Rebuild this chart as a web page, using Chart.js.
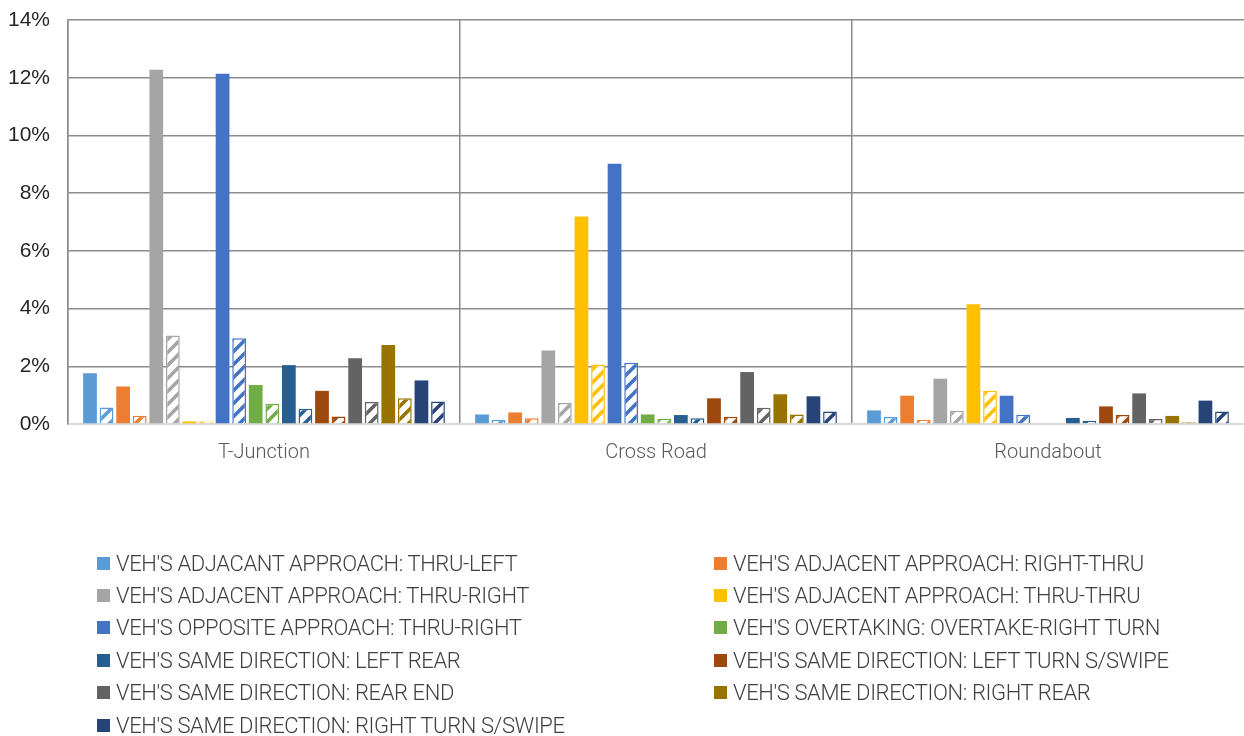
<!DOCTYPE html>
<html>
<head>
<meta charset="utf-8">
<title>Crash types by intersection</title>
<script src="https://cdn.jsdelivr.net/npm/chart.js@4.4.1/dist/chart.umd.min.js"></script>
<style>
  html, body { margin: 0; padding: 0; background: #ffffff; }
  #wrap { position: relative; width: 1244px; height: 736px; overflow: hidden; }
  #chart { position: absolute; left: 0; top: 0; }
  #legend {
    position: absolute; left: 97px; top: 547px;
    display: grid; grid-template-columns: 617px 530px; grid-auto-rows: 32.4px;
    font-family: Roboto, "Liberation Sans", sans-serif; font-weight: 300;
    font-size: 22px; letter-spacing: -0.4px; color: #404040;
  }
  .item { display: flex; align-items: center; white-space: nowrap; }
  .box { width: 13px; height: 13px; margin-right: 6px; flex: none; }
</style>
</head>
<body>
<div id="wrap">
  <canvas id="chart" width="1244" height="736"></canvas>
  <div id="legend"></div>
</div>
<script>
// Intersection types on the x axis
const categories = ['T-Junction', 'Cross Road', 'Roundabout'];

// Crash movement types (one solid + one hatched bar each)
const seriesNames = [
  "VEH'S ADJACANT APPROACH: THRU-LEFT",
  "VEH'S ADJACENT APPROACH: RIGHT-THRU",
  "VEH'S ADJACENT APPROACH: THRU-RIGHT",
  "VEH'S ADJACENT APPROACH: THRU-THRU",
  "VEH'S OPPOSITE APPROACH: THRU-RIGHT",
  "VEH'S OVERTAKING: OVERTAKE-RIGHT TURN",
  "VEH'S SAME DIRECTION: LEFT REAR",
  "VEH'S SAME DIRECTION: LEFT TURN S/SWIPE",
  "VEH'S SAME DIRECTION: REAR END",
  "VEH'S SAME DIRECTION: RIGHT REAR",
  "VEH'S SAME DIRECTION: RIGHT TURN S/SWIPE"
];

const seriesColors = [
  '#5B9BD5', '#ED7D31', '#A5A5A5', '#FFC000', '#4472C4', '#70AD47',
  '#255E91', '#9E480E', '#636363', '#997300', '#264478'
];

// Share of crashes (%), in seriesNames order
const tJunctionSolid   = [1.76, 1.30, 12.28, 0.09, 12.14, 1.35, 2.04, 1.15, 2.28, 2.74, 1.51];
const tJunctionHatched = [0.57, 0.29, 3.07, 0.09, 2.97, 0.70, 0.53, 0.26, 0.76, 0.89, 0.78];
const crossRoadSolid   = [0.33, 0.40, 2.55, 7.19, 9.02, 0.33, 0.31, 0.89, 1.80, 1.03, 0.96];
const crossRoadHatched = [0.15, 0.20, 0.73, 2.06, 2.12, 0.18, 0.20, 0.25, 0.56, 0.33, 0.43];
const roundaboutSolid   = [0.47, 0.98, 1.57, 4.15, 0.98, 0.00, 0.21, 0.61, 1.06, 0.28, 0.81];
const roundaboutHatched = [0.24, 0.15, 0.46, 1.15, 0.32, 0.00, 0.11, 0.31, 0.17, 0.06, 0.43];

// Y axis range and step (percent)
const yMin = 0, yMax = 14, yStep = 2;

// Upward diagonal stripe fill in a given colour
function stripePattern(color) {
  const s = 13;
  const c = document.createElement('canvas');
  c.width = s; c.height = s;
  const g = c.getContext('2d');
  g.fillStyle = '#ffffff';
  g.fillRect(0, 0, s, s);
  g.strokeStyle = color;
  g.lineWidth = 3.6;
  g.beginPath();
  g.moveTo(-s / 2, s / 2); g.lineTo(s / 2, -s / 2);
  g.moveTo(0, s); g.lineTo(s, 0);
  g.moveTo(s / 2, 3 * s / 2); g.lineTo(3 * s / 2, s / 2);
  g.stroke();
  return g.createPattern(c, 'repeat');
}

const datasets = [];
seriesNames.forEach((name, i) => {
  datasets.push({
    label: name,
    data: [tJunctionSolid[i], crossRoadSolid[i], roundaboutSolid[i]],
    backgroundColor: seriesColors[i],
    borderWidth: 0,
    hatched: false
  });
  datasets.push({
    label: name,
    data: [tJunctionHatched[i], crossRoadHatched[i], roundaboutHatched[i]],
    backgroundColor: stripePattern(seriesColors[i]),
    borderColor: seriesColors[i],
    borderWidth: 1.5,
    hatched: true
  });
});

const gridGray = '#8c8c8c';

const chart = new Chart(document.getElementById('chart'), {
  type: 'bar',
  data: { labels: categories, datasets },
  options: {
    responsive: false,
    animation: false,
    events: [],
    categoryPercentage: 0.93,
    barPercentage: 0.83,
    layout: { padding: 0 },
    plugins: { legend: { display: false }, tooltip: { enabled: false } },
    scales: {
      x: {
        offset: true,
        grid: {
          offset: true,
          drawTicks: false,
          lineWidth: 1.5,
          color: ctx => (ctx.type === 'tick' ? gridGray : 'rgba(0,0,0,0)')
        },
        border: { display: true, color: '#d9d9d9', width: 2 },
        ticks: {
          padding: 17,
          color: '#595959',
          font: { family: 'Roboto, "Liberation Sans", sans-serif', weight: 300, size: 20 }
        },
        afterFit: scale => { scale.height = 312; }
      },
      y: {
        min: yMin,
        max: yMax,
        grid: {
          drawTicks: false,
          lineWidth: 1.5,
          color: ctx => (ctx.index === 0 ? 'rgba(0,0,0,0)' : gridGray)
        },
        border: { display: true, color: gridGray, width: 1.5 },
        ticks: {
          stepSize: yStep,
          padding: 18,
          color: '#262626',
          font: { family: '"Liberation Sans", Arial, sans-serif', size: 21 },
          callback: v => v + '%'
        },
        afterFit: scale => {
          scale.width = 68;
          scale.paddingTop = 20;
        }
      }
    }
  }
});

// Legend listing the solid series, two per row
const legend = document.getElementById('legend');
chart.data.datasets.forEach(ds => {
  if (ds.hatched) return;
  const item = document.createElement('div');
  item.className = 'item';
  const box = document.createElement('span');
  box.className = 'box';
  box.style.background = ds.backgroundColor;
  const text = document.createElement('span');
  text.textContent = ds.label;
  item.appendChild(box);
  item.appendChild(text);
  legend.appendChild(item);
});
</script>
</body>
</html>
